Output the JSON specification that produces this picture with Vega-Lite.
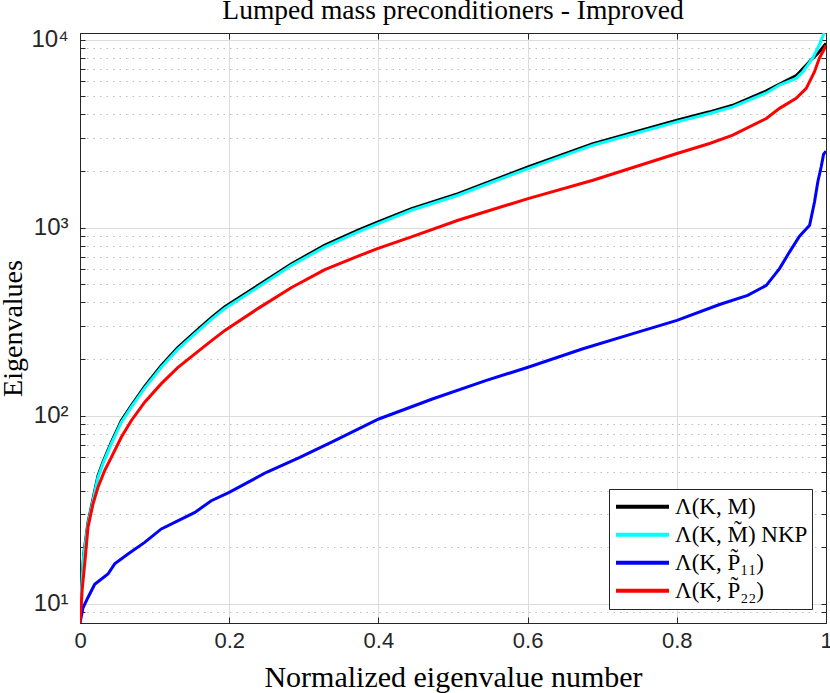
{
"$schema": "https://vega.github.io/schema/vega-lite/v6.json",
"width": 746, "height": 590,
"autosize": {"type": "none"},
"padding": {"left": 80, "top": 33, "right": 4, "bottom": 70},
"background": "white",
"title": {"text": "Lumped mass preconditioners - Improved", "font": "Liberation Serif", "fontSize": 27.5, "fontWeight": "normal", "color": "#000000", "offset": 3, "anchor": "middle", "frame": "group"},
"config": {"view": {"stroke": "#262626", "strokeWidth": 1}},
"datasets": {"d": [
{"s":"Λ(K, M)","x":0,"y":7.9},{"s":"Λ(K, M)","x":0.002,"y":12.2},{"s":"Λ(K, M)","x":0.005,"y":18.4},{"s":"Λ(K, M)","x":0.0107,"y":27},{"s":"Λ(K, M)","x":0.0174,"y":36},{"s":"Λ(K, M)","x":0.0241,"y":48},{"s":"Λ(K, M)","x":0.0308,"y":56.7},{"s":"Λ(K, M)","x":0.042,"y":72.4},{"s":"Λ(K, M)","x":0.0553,"y":94},{"s":"Λ(K, M)","x":0.0687,"y":113},{"s":"Λ(K, M)","x":0.0867,"y":143},{"s":"Λ(K, M)","x":0.109,"y":185},{"s":"Λ(K, M)","x":0.131,"y":230},{"s":"Λ(K, M)","x":0.154,"y":278},{"s":"Λ(K, M)","x":0.176,"y":332},{"s":"Λ(K, M)","x":0.1942,"y":379},{"s":"Λ(K, M)","x":0.2389,"y":493},{"s":"Λ(K, M)","x":0.2836,"y":643},{"s":"Λ(K, M)","x":0.3282,"y":806},{"s":"Λ(K, M)","x":0.3728,"y":970},{"s":"Λ(K, M)","x":0.3996,"y":1071},{"s":"Λ(K, M)","x":0.4443,"y":1261},{"s":"Λ(K, M)","x":0.5068,"y":1516},{"s":"Λ(K, M)","x":0.6006,"y":2100},{"s":"Λ(K, M)","x":0.6876,"y":2797},{"s":"Λ(K, M)","x":0.8002,"y":3723},{"s":"Λ(K, M)","x":0.844,"y":4126},{"s":"Λ(K, M)","x":0.875,"y":4470},{"s":"Λ(K, M)","x":0.92,"y":5330},{"s":"Λ(K, M)","x":0.9377,"y":5800},{"s":"Λ(K, M)","x":0.96,"y":6420},{"s":"Λ(K, M)","x":0.978,"y":7630},{"s":"Λ(K, M)","x":0.991,"y":8610},{"s":"Λ(K, M)","x":1.0,"y":9540},
{"s":"Λ(K, M\u0303) NKP","x":0,"y":7.9},{"s":"Λ(K, M\u0303) NKP","x":0.002,"y":12},{"s":"Λ(K, M\u0303) NKP","x":0.005,"y":18},{"s":"Λ(K, M\u0303) NKP","x":0.0107,"y":26.5},{"s":"Λ(K, M\u0303) NKP","x":0.0174,"y":35.3},{"s":"Λ(K, M\u0303) NKP","x":0.0241,"y":47},{"s":"Λ(K, M\u0303) NKP","x":0.0308,"y":55.6},{"s":"Λ(K, M\u0303) NKP","x":0.042,"y":71},{"s":"Λ(K, M\u0303) NKP","x":0.0553,"y":92},{"s":"Λ(K, M\u0303) NKP","x":0.0687,"y":111},{"s":"Λ(K, M\u0303) NKP","x":0.0867,"y":140},{"s":"Λ(K, M\u0303) NKP","x":0.109,"y":181},{"s":"Λ(K, M\u0303) NKP","x":0.131,"y":225},{"s":"Λ(K, M\u0303) NKP","x":0.154,"y":272},{"s":"Λ(K, M\u0303) NKP","x":0.176,"y":325},{"s":"Λ(K, M\u0303) NKP","x":0.1942,"y":371},{"s":"Λ(K, M\u0303) NKP","x":0.2389,"y":483},{"s":"Λ(K, M\u0303) NKP","x":0.2836,"y":630},{"s":"Λ(K, M\u0303) NKP","x":0.3282,"y":790},{"s":"Λ(K, M\u0303) NKP","x":0.3728,"y":950},{"s":"Λ(K, M\u0303) NKP","x":0.3996,"y":1050},{"s":"Λ(K, M\u0303) NKP","x":0.4443,"y":1236},{"s":"Λ(K, M\u0303) NKP","x":0.5068,"y":1486},{"s":"Λ(K, M\u0303) NKP","x":0.6006,"y":2060},{"s":"Λ(K, M\u0303) NKP","x":0.6876,"y":2742},{"s":"Λ(K, M\u0303) NKP","x":0.8002,"y":3650},{"s":"Λ(K, M\u0303) NKP","x":0.844,"y":4045},{"s":"Λ(K, M\u0303) NKP","x":0.875,"y":4380},{"s":"Λ(K, M\u0303) NKP","x":0.92,"y":5200},{"s":"Λ(K, M\u0303) NKP","x":0.9377,"y":5730},{"s":"Λ(K, M\u0303) NKP","x":0.96,"y":6210},{"s":"Λ(K, M\u0303) NKP","x":0.969,"y":6740},{"s":"Λ(K, M\u0303) NKP","x":0.982,"y":7940},{"s":"Λ(K, M\u0303) NKP","x":0.991,"y":9350},{"s":"Λ(K, M\u0303) NKP","x":1.0,"y":11500},
{"s":"Λ(K, P\u0303\u2081\u2081)","x":0,"y":7.9},{"s":"Λ(K, P\u0303\u2081\u2081)","x":0.004,"y":9.5},{"s":"Λ(K, P\u0303\u2081\u2081)","x":0.0107,"y":10.8},{"s":"Λ(K, P\u0303\u2081\u2081)","x":0.0197,"y":12.7},{"s":"Λ(K, P\u0303\u2081\u2081)","x":0.0375,"y":14.4},{"s":"Λ(K, P\u0303\u2081\u2081)","x":0.0465,"y":16.3},{"s":"Λ(K, P\u0303\u2081\u2081)","x":0.0643,"y":18.4},{"s":"Λ(K, P\u0303\u2081\u2081)","x":0.0867,"y":21.2},{"s":"Λ(K, P\u0303\u2081\u2081)","x":0.109,"y":25},{"s":"Λ(K, P\u0303\u2081\u2081)","x":0.131,"y":27.6},{"s":"Λ(K, P\u0303\u2081\u2081)","x":0.154,"y":30.6},{"s":"Λ(K, P\u0303\u2081\u2081)","x":0.176,"y":35.3},{"s":"Λ(K, P\u0303\u2081\u2081)","x":0.2,"y":39.1},{"s":"Λ(K, P\u0303\u2081\u2081)","x":0.25,"y":50},{"s":"Λ(K, P\u0303\u2081\u2081)","x":0.2947,"y":60},{"s":"Λ(K, P\u0303\u2081\u2081)","x":0.3394,"y":73},{"s":"Λ(K, P\u0303\u2081\u2081)","x":0.4005,"y":96},{"s":"Λ(K, P\u0303\u2081\u2081)","x":0.4733,"y":123},{"s":"Λ(K, P\u0303\u2081\u2081)","x":0.5448,"y":154},{"s":"Λ(K, P\u0303\u2081\u2081)","x":0.6006,"y":181},{"s":"Λ(K, P\u0303\u2081\u2081)","x":0.6742,"y":227},{"s":"Λ(K, P\u0303\u2081\u2081)","x":0.7412,"y":273},{"s":"Λ(K, P\u0303\u2081\u2081)","x":0.8002,"y":321},{"s":"Λ(K, P\u0303\u2081\u2081)","x":0.8573,"y":390},{"s":"Λ(K, P\u0303\u2081\u2081)","x":0.895,"y":436},{"s":"Λ(K, P\u0303\u2081\u2081)","x":0.92,"y":493},{"s":"Λ(K, P\u0303\u2081\u2081)","x":0.9377,"y":605},{"s":"Λ(K, P\u0303\u2081\u2081)","x":0.951,"y":741},{"s":"Λ(K, P\u0303\u2081\u2081)","x":0.9645,"y":900},{"s":"Λ(K, P\u0303\u2081\u2081)","x":0.978,"y":1028},{"s":"Λ(K, P\u0303\u2081\u2081)","x":0.9846,"y":1368},{"s":"Λ(K, P\u0303\u2081\u2081)","x":0.989,"y":1749},{"s":"Λ(K, P\u0303\u2081\u2081)","x":0.9935,"y":2100},{"s":"Λ(K, P\u0303\u2081\u2081)","x":0.9967,"y":2450},{"s":"Λ(K, P\u0303\u2081\u2081)","x":1.0,"y":2550},
{"s":"Λ(K, P\u0303\u2082\u2082)","x":0,"y":7.9},{"s":"Λ(K, P\u0303\u2082\u2082)","x":0.003,"y":12},{"s":"Λ(K, P\u0303\u2082\u2082)","x":0.0063,"y":16.3},{"s":"Λ(K, P\u0303\u2082\u2082)","x":0.0107,"y":25.5},{"s":"Λ(K, P\u0303\u2082\u2082)","x":0.0174,"y":33.9},{"s":"Λ(K, P\u0303\u2082\u2082)","x":0.0241,"y":41.6},{"s":"Λ(K, P\u0303\u2082\u2082)","x":0.033,"y":51},{"s":"Λ(K, P\u0303\u2082\u2082)","x":0.042,"y":60},{"s":"Λ(K, P\u0303\u2082\u2082)","x":0.0553,"y":76.8},{"s":"Λ(K, P\u0303\u2082\u2082)","x":0.0687,"y":94},{"s":"Λ(K, P\u0303\u2082\u2082)","x":0.0867,"y":118},{"s":"Λ(K, P\u0303\u2082\u2082)","x":0.109,"y":148},{"s":"Λ(K, P\u0303\u2082\u2082)","x":0.131,"y":180},{"s":"Λ(K, P\u0303\u2082\u2082)","x":0.154,"y":213},{"s":"Λ(K, P\u0303\u2082\u2082)","x":0.176,"y":250},{"s":"Λ(K, P\u0303\u2082\u2082)","x":0.1942,"y":284},{"s":"Λ(K, P\u0303\u2082\u2082)","x":0.2389,"y":372},{"s":"Λ(K, P\u0303\u2082\u2082)","x":0.2836,"y":480},{"s":"Λ(K, P\u0303\u2082\u2082)","x":0.3282,"y":598},{"s":"Λ(K, P\u0303\u2082\u2082)","x":0.3728,"y":705},{"s":"Λ(K, P\u0303\u2082\u2082)","x":0.3996,"y":775},{"s":"Λ(K, P\u0303\u2082\u2082)","x":0.4443,"y":893},{"s":"Λ(K, P\u0303\u2082\u2082)","x":0.5068,"y":1094},{"s":"Λ(K, P\u0303\u2082\u2082)","x":0.6006,"y":1426},{"s":"Λ(K, P\u0303\u2082\u2082)","x":0.6876,"y":1786},{"s":"Λ(K, P\u0303\u2082\u2082)","x":0.8002,"y":2478},{"s":"Λ(K, P\u0303\u2082\u2082)","x":0.844,"y":2800},{"s":"Λ(K, P\u0303\u2082\u2082)","x":0.875,"y":3100},{"s":"Λ(K, P\u0303\u2082\u2082)","x":0.92,"y":3800},{"s":"Λ(K, P\u0303\u2082\u2082)","x":0.9377,"y":4305},{"s":"Λ(K, P\u0303\u2082\u2082)","x":0.96,"y":4865},{"s":"Λ(K, P\u0303\u2082\u2082)","x":0.9735,"y":5500},{"s":"Λ(K, P\u0303\u2082\u2082)","x":0.9846,"y":6740},{"s":"Λ(K, P\u0303\u2082\u2082)","x":0.991,"y":7940},{"s":"Λ(K, P\u0303\u2082\u2082)","x":0.997,"y":8800},{"s":"Λ(K, P\u0303\u2082\u2082)","x":1.0,"y":9300}
]},
"data": {"name": "d"},
"layer": [
{"mark": {"type": "line", "strokeWidth": 3, "clip": true},
 "encoding": {
  "x": {"field": "x", "type": "quantitative", "scale": {"domain": [0, 1], "nice": false, "zero": false},
   "axis": {"orient": "bottom", "values": [0, 0.2, 0.4, 0.6, 0.8, 1], "labelExpr": "datum.value == 0 ? '0' : datum.value == 1 ? '1' : format(datum.value, '.1f')", "labelFlush": false, "labelFont": "Liberation Sans", "labelFontSize": 22, "labelColor": "#262626", "labelPadding": 13, "tickSize": -6, "tickColor": "#262626", "domainColor": "#262626", "grid": true, "gridColor": "#dcdcdc", "title": "Normalized eigenvalue number", "titleFont": "Liberation Serif", "titleFontSize": 30, "titleFontWeight": "normal", "titleColor": "#000000", "titlePadding": 11}},
  "y": {"field": "y", "type": "quantitative", "scale": {"type": "log", "domain": [7.9, 10830], "nice": false},
   "axis": {"orient": "left", "values": [9, 10, 20, 30, 40, 50, 60, 70, 80, 90, 100, 200, 300, 400, 500, 600, 700, 800, 900, 1000, 2000, 3000, 4000, 5000, 6000, 7000, 8000, 9000, 10000], "labelExpr": "datum.value == 10 ? '10¹' : datum.value == 100 ? '10²' : datum.value == 1000 ? '10³' : datum.value == 10000 ? '10⁴' : ''", "labelOverlap": false, "labelFont": "Liberation Sans", "labelFontSize": 24, "labelColor": "#262626", "labelPadding": 17, "tickSize": -5, "tickColor": "#262626", "domainColor": "#262626", "grid": true,
    "gridColor": {"condition": {"test": "datum.value == 10 || datum.value == 100 || datum.value == 1000 || datum.value == 10000", "value": "#dcdcdc"}, "value": "#bdbdbd"},
    "gridDash": {"condition": {"test": "datum.value == 10 || datum.value == 100 || datum.value == 1000 || datum.value == 10000", "value": []}, "value": [1.5, 5]},
    "title": "Eigenvalues", "titleFont": "Liberation Serif", "titleFontSize": 28, "titleFontWeight": "normal", "titleColor": "#000000", "titlePadding": 3}},
  "color": {"field": "s", "type": "nominal", "sort": null,
   "scale": {"domain": ["Λ(K, M)", "Λ(K, M\u0303) NKP", "Λ(K, P\u0303\u2081\u2081)", "Λ(K, P\u0303\u2082\u2082)"], "range": ["#000000", "#00ffff", "#0000ff", "#ff0000"]},
   "legend": {"orient": "bottom-right", "offset": 14, "title": null, "symbolType": "stroke", "symbolSize": 2809, "symbolStrokeWidth": 4, "symbolOffset": 1, "clipHeight": 27.5, "rowPadding": 0, "labelFont": "Liberation Serif", "labelFontSize": 23, "labelColor": "#000000", "labelOffset": 4, "labelLimit": 400, "padding": 4, "fillColor": "white", "strokeColor": "#262626"}}
 }},
{"mark": {"type": "line", "strokeOpacity": 0, "clip": true},
 "encoding": {
  "x": {"field": "x", "type": "quantitative", "scale": {"domain": [0, 1], "nice": false, "zero": false},
   "axis": {"orient": "top", "values": [0, 0.2, 0.4, 0.6, 0.8, 1], "labels": false, "grid": false, "tickSize": -6, "tickColor": "#262626", "domainColor": "#262626", "title": null}},
  "y": {"field": "y", "type": "quantitative", "scale": {"type": "log", "domain": [7.9, 10830], "nice": false},
   "axis": {"orient": "right", "values": [9, 10, 20, 30, 40, 50, 60, 70, 80, 90, 100, 200, 300, 400, 500, 600, 700, 800, 900, 1000, 2000, 3000, 4000, 5000, 6000, 7000, 8000, 9000, 10000], "labels": false, "grid": false, "tickSize": -5, "tickColor": "#262626", "domainColor": "#262626", "title": null}},
  "detail": {"field": "s", "type": "nominal"}
 }}
],
"resolve": {"axis": {"x": "independent", "y": "independent"}}
}
